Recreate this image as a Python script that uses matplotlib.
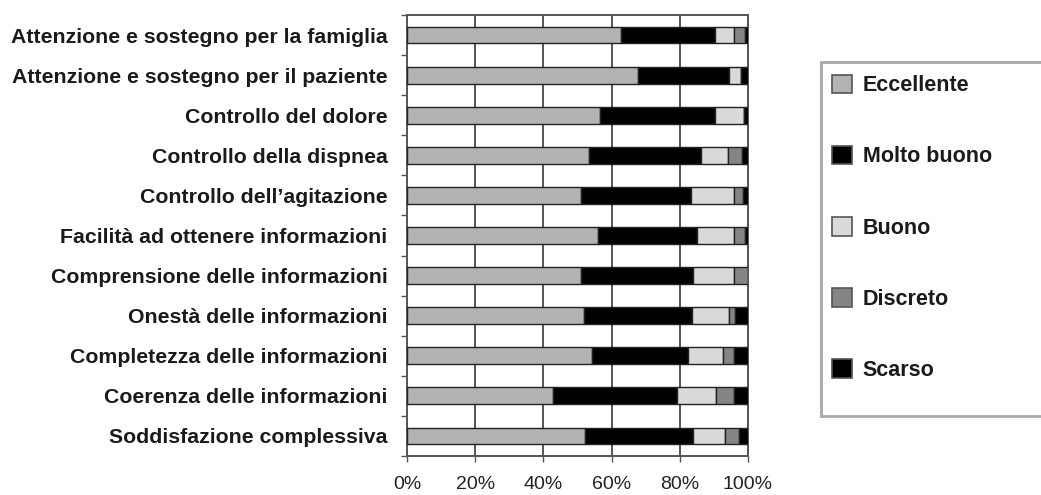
import matplotlib
matplotlib.use("Agg")
import matplotlib.pyplot as plt
from matplotlib.patches import Rectangle, Patch
import numpy as np

plt.rcParams['font.family'] = ['Liberation Sans', 'DejaVu Sans']

categories = [
    "Attenzione e sostegno per la famiglia",
    "Attenzione e sostegno per il paziente",
    "Controllo del dolore",
    "Controllo della dispnea",
    "Controllo dell\u2019agitazione",
    "Facilità ad ottenere informazioni",
    "Comprensione delle informazioni",
    "Onestà delle informazioni",
    "Completezza delle informazioni",
    "Coerenza delle informazioni",
    "Soddisfazione complessiva",
]

series_names = ["Eccellente", "Molto buono", "Buono", "Discreto", "Scarso"]

eccellente = [62.8, 67.7, 56.5, 53.5, 51.1, 56.0, 51.1, 51.8, 54.2, 42.8, 52.3]
molto_buono = [27.4, 26.7, 33.7, 32.8, 32.2, 29.1, 32.9, 31.7, 28.1, 36.4, 31.7]
buono = [5.6, 3.6, 8.5, 7.7, 12.5, 10.7, 11.8, 10.8, 10.3, 11.5, 9.4]
discreto = [3.2, 0.0, 0.0, 4.2, 2.7, 3.2, 4.2, 2.0, 3.4, 5.3, 4.1]
scarso = [1.0, 2.0, 1.3, 1.8, 1.5, 1.0, 0.0, 3.7, 4.0, 4.0, 2.5]

x_ticks = [0, 20, 40, 60, 80, 100]
x_ticklabels = ["0%", "20%", "40%", "60%", "80%", "100%"]

colors = ["#b3b3b3", "#000000", "#dadada", "#858585", "#000000"]

fig = plt.figure(figsize=(10.41, 4.95), dpi=100)
ax = fig.add_axes([407 / 1041, 1 - 456 / 495, (748 - 407) / 1041, (456 - 15) / 495])

y = np.arange(len(categories))
left = np.zeros(len(categories))
handles = []
for name, vals, col in zip(series_names, [eccellente, molto_buono, buono, discreto, scarso], colors):
    vals = np.array(vals)
    ax.barh(y, vals, left=left, height=0.42, color=col, edgecolor="#222222",
            linewidth=1.0, zorder=3)
    left = left + vals
    handles.append(Patch(facecolor=col, edgecolor="#555555", linewidth=1.2, label=name))

ax.set_xlim(0, 100)
ax.set_ylim(len(categories) - 0.5, -0.5)

ax.set_xticks(x_ticks)
ax.set_xticklabels(x_ticklabels, fontsize=14, color="#222222")
ax.set_yticks(y)
ax.set_yticklabels(categories, fontsize=15.3, fontweight="bold", color="#1a1a1a")
ax.tick_params(axis="y", which="major", length=0, pad=14)
ax.set_yticks(np.arange(-0.5, len(categories), 1.0), minor=True)
ax.tick_params(axis="y", which="minor", length=4, width=1, color="#555555", direction="out")
ax.tick_params(axis="x", which="major", length=4, width=1, color="#555555", pad=10.5)

ax.xaxis.grid(True, color="#555555", linewidth=1.4, zorder=0)
ax.set_axisbelow(True)
for sp in ax.spines.values():
    sp.set_color("#555555")
    sp.set_linewidth(1.4)

# legend frame runs off the right edge of the figure
frame = Rectangle((821 / 1041, 1 - 416 / 495), 0.3, (416 - 62) / 495,
                  transform=fig.transFigure, facecolor="white",
                  edgecolor="#a8a8a8", linewidth=2, clip_on=False)
fig.patches.append(frame)

leg = fig.legend(handles=handles, loc="upper left",
                 bbox_to_anchor=(823 / 1041, 1 - 66 / 495),
                 frameon=False, prop={"weight": "bold", "size": 15.5},
                 handlelength=0.95, handleheight=0.95, handletextpad=0.5,
                 labelspacing=2.3, borderaxespad=0)
for t in leg.get_texts():
    t.set_color("#1a1a1a")

fig.savefig("out.png", dpi=100)
